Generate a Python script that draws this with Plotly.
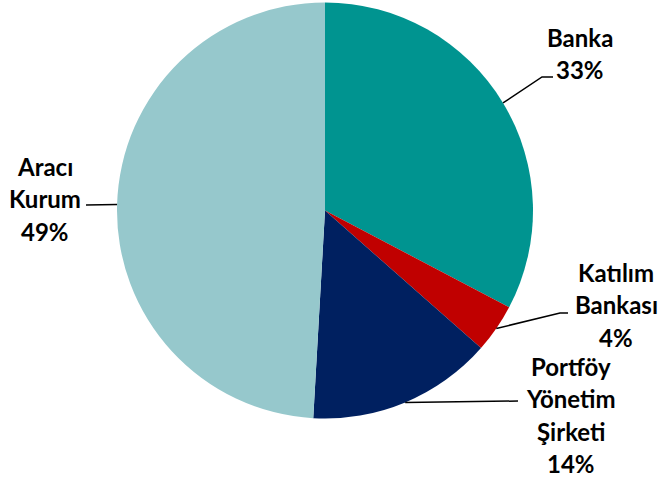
import plotly.graph_objects as go
import math

# ---- data ----
categories = ["Banka", "Katılım Bankası", "Portföy Yönetim Şirketi", "Aracı Kurum"]
label_lines = [["Banka"], ["Katılım", "Bankası"], ["Portföy", "Yönetim", "Şirketi"], ["Aracı", "Kurum"]]
values = [32.7, 3.8, 14.4, 49.1]
colors = ["#009490", "#C00000", "#002060", "#96C8CC"]

# ---- layout / style ----
W, H = 661, 481
CX, CY, R = 325, 210.5, 208
# leader-line elbow and end points (px) and text block centers (px)
elbows = [(542, 77), (560, 313), (518, 401), (86, 205)]
ends = [(553, 77), (568, 313), (518, 401), (86, 205)]
text_centers = [(580, 53.5), (616, 304.5), (571, 415), (45, 198.5)]
LINE_GAP = 32.5
FONT = dict(family="Lato", size=24, color="black", weight="bold")


def px(x, y):
    return x / W, 1 - y / H


fig = go.Figure(go.Pie(
    labels=categories, values=values, sort=False, direction="clockwise",
    rotation=0, marker=dict(colors=colors, line=dict(width=0)),
    textinfo="none", hoverinfo="label+percent",
    domain=dict(x=[(CX - R) / W, (CX + R) / W], y=[1 - (CY + R) / H, 1 - (CY - R) / H]),
))

total = sum(values)
cum = 0
shapes, annotations = [], []
for i, v in enumerate(values):
    mid = (cum + v / 2) / total * 2 * math.pi
    cum += v
    ex, ey = CX + R * math.sin(mid), CY - R * math.cos(mid)
    pts = [px(ex, ey), px(*elbows[i]), px(*ends[i])]
    path = "M {} {} L {} {} L {} {}".format(*[c for p in pts for c in p])
    shapes.append(dict(type="path", xref="paper", yref="paper", path=path,
                       line=dict(color="black", width=1.5)))
    lines = label_lines[i] + ["{}%".format(round(v / total * 100))]
    n = len(lines)
    tx, ty = text_centers[i]
    for j, t in enumerate(lines):
        yy = ty + (j - (n - 1) / 2) * LINE_GAP
        x0, y0 = px(tx, yy)
        annotations.append(dict(text=t, x=x0, y=y0, xref="paper", yref="paper",
                                xanchor="center", yanchor="middle", showarrow=False,
                                font=FONT))

fig.update_layout(
    width=W, height=H, margin=dict(l=0, r=0, t=0, b=0),
    paper_bgcolor="white", plot_bgcolor="white", showlegend=False,
    shapes=shapes, annotations=annotations,
)
fig.write_html("out.html", config={"displayModeBar": False},
               post_script="document.body.style.margin='0';document.body.style.overflow='hidden';")
